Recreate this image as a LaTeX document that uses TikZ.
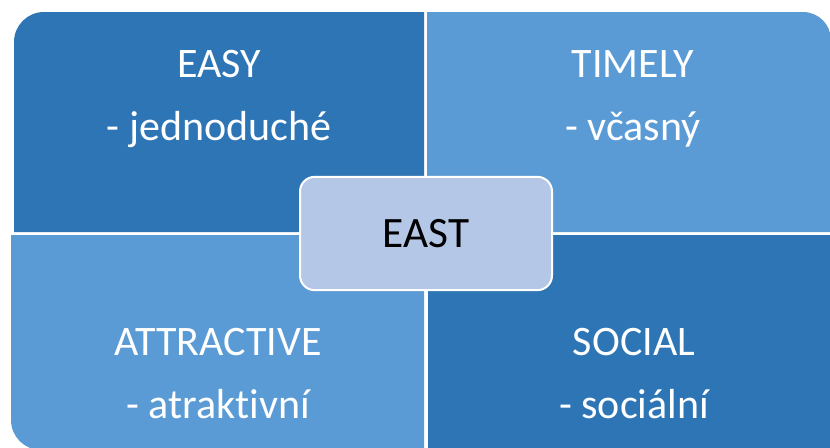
\documentclass[tikz,border=0pt]{standalone}
\usepackage{fontspec}
\setmainfont{Carlito}[Ligatures=NoCommon]
\usepackage{tikz}

\definecolor{darkquad}{RGB}{46,117,182}
\definecolor{lightquad}{RGB}{91,155,213}
\definecolor{eastfill}{RGB}{180,199,231}

\begin{document}
\begin{tikzpicture}[x=0.75pt,y=-0.75pt,
  quad text/.style={anchor=base,text=white,font=\fontsize{31.5}{38}\selectfont},
  main node/.style={rounded corners=11pt,draw=white,line width=1.5pt,fill=eastfill,
    minimum width=189pt,minimum height=85pt,font=\fontsize{32.5}{38}\selectfont}]
  \useasboundingbox (0,0) rectangle (830,447);

  % quadrants
  \fill[darkquad] (14,120) [rounded corners=22.5pt] -- (14,12) -- (200,12) [sharp corners] -- (424,12) -- (424,232) -- (14,232) -- cycle;
  \fill[lightquad] (600,12) [rounded corners=21pt] -- (831,12) -- (831,120) [sharp corners] -- (831,232) -- (427,232) -- (427,12) -- cycle;
  \fill[lightquad] (11,340) [rounded corners=22.5pt] -- (11,450) -- (200,450) [sharp corners] -- (424,450) -- (424,235) -- (11,235) -- cycle;
  \fill[darkquad] (428,235) rectangle (831,450);

  \node[quad text] (easy) at (219,77) {EASY};
  \node[quad text] (easycz) at (219,140) {- jednoduché};
  \node[quad text] (timely) at (633,77) {TIMELY};
  \node[quad text] (timelycz) at (633,140) {- včasný};
  \node[quad text] (attr) at (218,355) {ATTRACTIVE};
  \node[quad text] (attrcz) at (218,418) {- atraktivní};
  \node[quad text] (social) at (634,355) {SOCIAL};
  \node[quad text] (socialcz) at (634,418) {- sociální};

  \node[main node] (east) at (426,233.5) {EAST};
\end{tikzpicture}
\end{document}
